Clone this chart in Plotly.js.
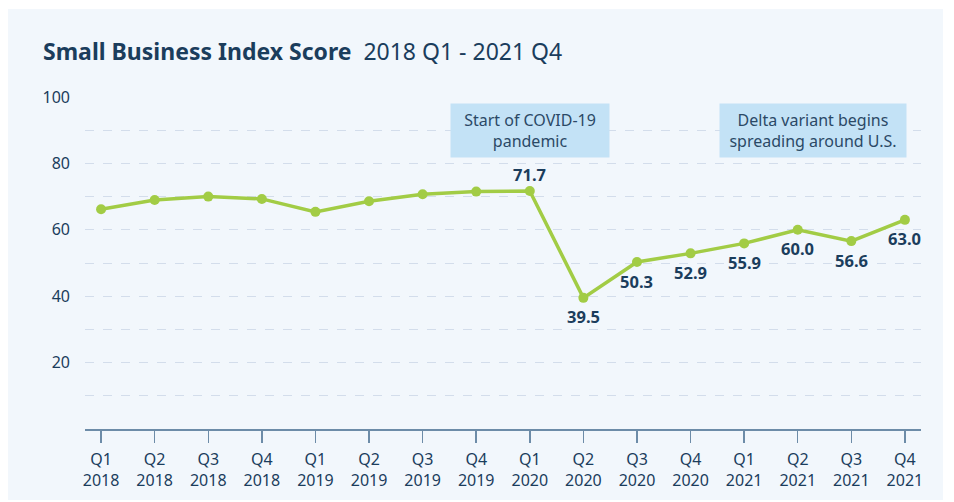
<!DOCTYPE html>
<html>
<head>
<meta charset="utf-8">
<script src="https://cdn.plot.ly/plotly-3.0.1.min.js"></script>
<style>html,body{margin:0;padding:0;background:#fff;}#chart{width:954px;height:502px;}</style>
</head>
<body>
<div id="chart"></div>
<script>
const quarters = ["Q1<br>2018","Q2<br>2018","Q3<br>2018","Q4<br>2018","Q1<br>2019","Q2<br>2019","Q3<br>2019","Q4<br>2019","Q1<br>2020","Q2<br>2020","Q3<br>2020","Q4<br>2020","Q1<br>2021","Q2<br>2021","Q3<br>2021","Q4<br>2021"];
const scores = [66.2, 69.0, 70.0, 69.3, 65.4, 68.6, 70.7, 71.5, 71.7, 39.5, 50.3, 52.9, 55.9, 60.0, 56.6, 63.0];
const valueLabels = ["","","","","","","","","71.7","39.5","50.3","52.9","55.9","60.0","56.6","63.0"];
const labelSides = ["above","above","above","above","above","above","above","above","above","below","below","below","below","below","below","below"];
const yTicks = [20, 40, 60, 80, 100];
const yMinorTicks = [10, 30, 50, 70, 90];
const eventNotes = [
  {x: 8, y: 90, text: "Start of COVID-19<br>pandemic"},
  {x: 13.28, y: 90, text: "Delta variant begins<br>spreading around U.S."}
];
const noteWidths = [150, 178];

const navy = "#1b3d5c";
const FONT = "'Noto Sans', sans-serif";
const W = 954, H = 502, L = 85, R = 33, T = 97, B = 73;
const pw = W - L - R, ph = H - T - B;
const px = v => (v - L) / pw;
const py = v => (H - B - v) / ph;

const trace = {
  x: quarters,
  y: scores,
  type: "scatter",
  mode: "lines+markers",
  line: {color: "#a2cc45", width: 3.5},
  marker: {color: "#a2cc45", size: 10},
  cliponaxis: false,
  hoverinfo: "skip"
};

const valueAnnotations = [];
valueLabels.forEach((t, i) => {
  if (!t) return;
  valueAnnotations.push({
    x: quarters[i], y: scores[i], xref: "x", yref: "y",
    text: "<b>" + t + "</b>", showarrow: false,
    yshift: labelSides[i] === "above" ? 16 : -19,
    font: {family: FONT, size: 16.5, color: navy}
  });
});

const noteAnnotations = eventNotes.map((n, i) => ({
  x: n.x, y: n.y, xref: "x", yref: "y",
  text: n.text, showarrow: false,
  bgcolor: "#c3e2f6", width: noteWidths[i], height: 45, borderpad: 4,
  font: {family: FONT, size: 16, color: "#2b4966"},
  align: "center"
}));

const layout = {
  width: W, height: H,
  margin: {l: L, r: R, t: T, b: B, pad: 0},
  paper_bgcolor: "#ffffff",
  plot_bgcolor: "rgba(0,0,0,0)",
  showlegend: false,
  title: {
    text: "<b>Small Business Index Score</b>  2018 Q1 - 2021 Q4",
    x: 43 / W, xref: "container", xanchor: "left",
    y: 1 - 52 / H, yref: "container", yanchor: "middle",
    font: {family: FONT, size: 23, color: navy}
  },
  xaxis: {
    type: "category",
    range: [-0.3, 15.3],
    showgrid: false, zeroline: false,
    showline: true, linecolor: "#6d8ca8", linewidth: 1.5,
    ticks: "outside", ticklen: 12, tickwidth: 1.5, tickcolor: "#6d8ca8",
    tickfont: {family: FONT, size: 16, color: navy},
    ticklabelstandoff: 3,
    fixedrange: true
  },
  yaxis: {
    range: [0, 100],
    tickvals: yTicks,
    showgrid: true, gridcolor: "#d3ddeb", griddash: "dash", gridwidth: 1,
    minor: {tickvals: yMinorTicks, showgrid: true, gridcolor: "#d3ddeb", griddash: "dash", gridwidth: 1},
    zeroline: false, showline: false, ticks: "",
    ticklabelstandoff: 14,
    tickfont: {family: FONT, size: 16, color: navy},
    fixedrange: true
  },
  shapes: [{
    type: "rect", xref: "paper", yref: "paper", layer: "below",
    x0: px(8), x1: px(943), y0: py(500), y1: py(9),
    fillcolor: "#f2f7fc", line: {width: 0}
  }],
  annotations: valueAnnotations.concat(noteAnnotations)
};

Plotly.newPlot("chart", [trace], layout, {displayModeBar: false, staticPlot: true});
</script>
</body>
</html>
